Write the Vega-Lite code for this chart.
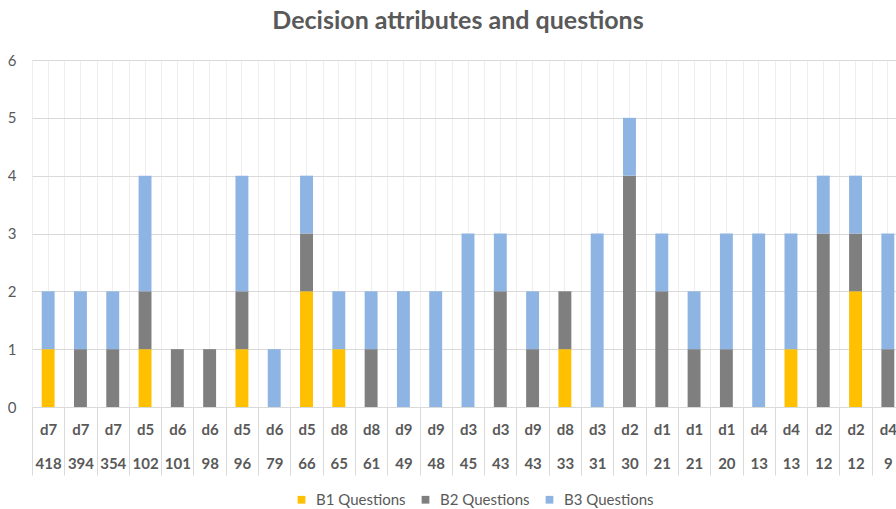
{
  "$schema": "https://vega.github.io/schema/vega-lite/v6.json",
  "autosize": {"type": "none"},
  "width": 864,
  "height": 347,
  "padding": {"left": 32, "top": 60, "right": 0, "bottom": 102},
  "background": "white",
  "title": {"text": "Decision attributes and questions", "font": "Lato", "fontSize": 25, "fontWeight": "bold", "color": "#595959", "anchor": "middle", "offset": 19, "dx": -6},
  "config": {"view": {"stroke": null}, "font": "Lato"},
  "data": {"values": [
    {"bar": "01|d7|418", "series": "B1 Questions", "count": 1},
    {"bar": "01|d7|418", "series": "B3 Questions", "count": 1},
    {"bar": "02|d7|394", "series": "B2 Questions", "count": 1},
    {"bar": "02|d7|394", "series": "B3 Questions", "count": 1},
    {"bar": "03|d7|354", "series": "B2 Questions", "count": 1},
    {"bar": "03|d7|354", "series": "B3 Questions", "count": 1},
    {"bar": "04|d5|102", "series": "B1 Questions", "count": 1},
    {"bar": "04|d5|102", "series": "B2 Questions", "count": 1},
    {"bar": "04|d5|102", "series": "B3 Questions", "count": 2},
    {"bar": "05|d6|101", "series": "B2 Questions", "count": 1},
    {"bar": "06|d6|98", "series": "B2 Questions", "count": 1},
    {"bar": "07|d5|96", "series": "B1 Questions", "count": 1},
    {"bar": "07|d5|96", "series": "B2 Questions", "count": 1},
    {"bar": "07|d5|96", "series": "B3 Questions", "count": 2},
    {"bar": "08|d6|79", "series": "B3 Questions", "count": 1},
    {"bar": "09|d5|66", "series": "B1 Questions", "count": 2},
    {"bar": "09|d5|66", "series": "B2 Questions", "count": 1},
    {"bar": "09|d5|66", "series": "B3 Questions", "count": 1},
    {"bar": "10|d8|65", "series": "B1 Questions", "count": 1},
    {"bar": "10|d8|65", "series": "B3 Questions", "count": 1},
    {"bar": "11|d8|61", "series": "B2 Questions", "count": 1},
    {"bar": "11|d8|61", "series": "B3 Questions", "count": 1},
    {"bar": "12|d9|49", "series": "B3 Questions", "count": 2},
    {"bar": "13|d9|48", "series": "B3 Questions", "count": 2},
    {"bar": "14|d3|45", "series": "B3 Questions", "count": 3},
    {"bar": "15|d3|43", "series": "B2 Questions", "count": 2},
    {"bar": "15|d3|43", "series": "B3 Questions", "count": 1},
    {"bar": "16|d9|43", "series": "B2 Questions", "count": 1},
    {"bar": "16|d9|43", "series": "B3 Questions", "count": 1},
    {"bar": "17|d8|33", "series": "B1 Questions", "count": 1},
    {"bar": "17|d8|33", "series": "B2 Questions", "count": 1},
    {"bar": "18|d3|31", "series": "B3 Questions", "count": 3},
    {"bar": "19|d2|30", "series": "B2 Questions", "count": 4},
    {"bar": "19|d2|30", "series": "B3 Questions", "count": 1},
    {"bar": "20|d1|21", "series": "B2 Questions", "count": 2},
    {"bar": "20|d1|21", "series": "B3 Questions", "count": 1},
    {"bar": "21|d1|21", "series": "B2 Questions", "count": 1},
    {"bar": "21|d1|21", "series": "B3 Questions", "count": 1},
    {"bar": "22|d1|20", "series": "B2 Questions", "count": 1},
    {"bar": "22|d1|20", "series": "B3 Questions", "count": 2},
    {"bar": "23|d4|13", "series": "B3 Questions", "count": 3},
    {"bar": "24|d4|13", "series": "B1 Questions", "count": 1},
    {"bar": "24|d4|13", "series": "B3 Questions", "count": 2},
    {"bar": "25|d2|12", "series": "B2 Questions", "count": 3},
    {"bar": "25|d2|12", "series": "B3 Questions", "count": 1},
    {"bar": "26|d2|12", "series": "B1 Questions", "count": 2},
    {"bar": "26|d2|12", "series": "B2 Questions", "count": 1},
    {"bar": "26|d2|12", "series": "B3 Questions", "count": 1},
    {"bar": "27|d4|9", "series": "B2 Questions", "count": 1},
    {"bar": "27|d4|9", "series": "B3 Questions", "count": 2}
  ]},
  "layer": [
    {
      "mark": {"type": "bar", "opacity": 0},
      "encoding": {
        "x": {"field": "bar", "type": "nominal", "sort": null,
              "scale": {"paddingInner": 0, "paddingOuter": 0, "range": [0, 872]},
              "axis": {"orient": "bottom", "title": null, "labels": false, "ticks": false, "domain": false, "grid": true, "tickBand": "center", "gridColor": "#eeeeee", "gridWidth": 1}},
        "y": {"field": "count", "type": "quantitative", "stack": "zero",
              "scale": {"domain": [0, 6]},
              "axis": {"title": null, "values": [0, 1, 2, 3, 4, 5, 6], "domain": false, "ticks": false,
                       "gridColor": "#d9d9d9", "labelFont": "Lato", "labelFontSize": 15, "labelColor": "#595959", "labelPadding": 16}}
      }
    },
    {
      "mark": {"type": "bar", "width": {"band": 0.4}},
      "encoding": {
        "x": {"field": "bar", "type": "nominal", "sort": null,
              "axis": {"orient": "bottom", "title": null, "labelAngle": 0, "domain": false, "grid": true, "tickBand": "extent", "gridColor": "#eeeeee",
                       "ticks": true, "tickSize": 68, "tickColor": "#d9d9d9", "tickWidth": 1,
                       "labelExpr": "[split(datum.value, '|')[1], split(datum.value, '|')[2]]",
                       "labelFont": "Lato", "labelFontSize": 15, "labelFontWeight": "bold", "labelColor": "#595959",
                       "labelBaseline": "top", "labelPadding": -53, "labelLineHeight": 34, "labelOverlap": false}},
        "y": {"field": "count", "type": "quantitative", "stack": "zero",
              "scale": {"domain": [0, 6]},
              "axis": {"title": null, "values": [0, 1, 2, 3, 4, 5, 6], "domain": false, "ticks": false,
                       "gridColor": "#d9d9d9", "labelFont": "Lato", "labelFontSize": 15, "labelColor": "#595959", "labelPadding": 16}},
        "color": {"field": "series", "type": "nominal",
                  "scale": {"domain": ["B1 Questions", "B2 Questions", "B3 Questions"], "range": ["#FFC000", "#7F7F7F", "#8EB4E3"]},
                  "legend": {"title": null, "orient": "none", "direction": "horizontal", "legendX": 262, "legendY": 432,
                             "symbolType": "square", "symbolSize": 60, "symbolStrokeWidth": 0, "labelFont": "Lato", "labelFontSize": 15,
                             "labelColor": "#595959", "labelOffset": 7, "columnPadding": 12}},
        "order": {"field": "series", "type": "nominal", "sort": "ascending"}
      }
    }
  ],
  "resolve": {"axis": {"x": "independent"}}
}
